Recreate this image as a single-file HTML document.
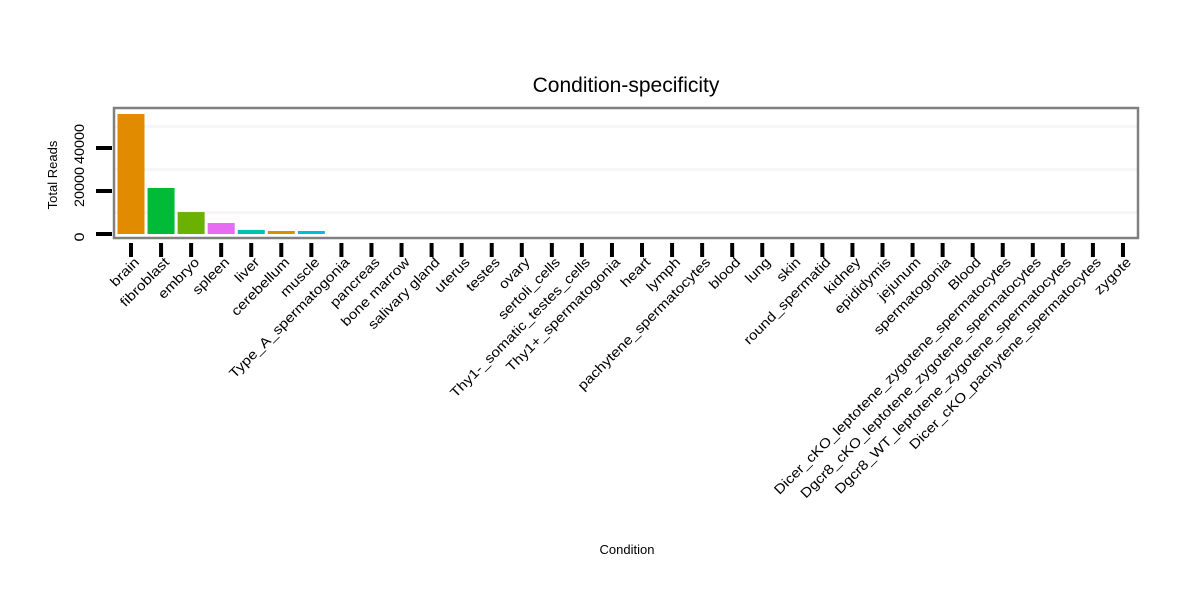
<!DOCTYPE html>
<html><head><meta charset="utf-8"><style>
body{margin:0;background:#fff;}
svg{display:block;font-family:"Liberation Sans",sans-serif;}
</style></head><body>
<svg id="chart" width="1200" height="600">
<rect width="1200" height="600" fill="#fff"/>
<text x="626" y="92" font-size="21" text-anchor="middle">Condition-specificity</text>
<text x="627" y="554" font-size="13" text-anchor="middle">Condition</text>
<text transform="translate(57,175) rotate(-90)" font-size="13" text-anchor="middle">Total Reads</text>
<g id="grid"></g><g id="bars"></g><g id="axes"></g>
<rect x="114" y="108" width="1024" height="130" fill="none" stroke="#808080" stroke-width="2.5"/>
</svg>
<script>
const categories=["brain","fibroblast","embryo","spleen","liver","cerebellum","muscle","Type_A_spermatogonia","pancreas","bone marrow","salivary gland","uterus","testes","ovary","sertoli_cells","Thy1-_somatic_testes_cells","Thy1+_spermatogonia","heart","lymph","pachytene_spermatocytes","blood","lung","skin","round_spermatid","kidney","epididymis","jejunum","spermatogonia","Blood","Dicer_cKO_leptotene_zygotene_spermatocytes","Dgcr8_cKO_leptotene_zygotene_spermatocytes","Dgcr8_WT_leptotene_zygotene_spermatocytes","Dicer_cKO_pachytene_spermatocytes","zygote"];
const values=[55800,21400,10200,5100,1900,1400,1400,0,0,0,0,0,0,0,0,0,0,0,0,0,0,0,0,0,0,0,0,0,0,0,0,0,0,0];
const colors=["#E08B00","#00BA38","#6BB100","#E76BF3","#00C0AF","#D89000","#00BCD8"];
const yTicks=[0,20000,40000];
const yGrid=[10000,30000,50000];
const NS="http://www.w3.org/2000/svg";
const y=v=>234-v*43/20000;
const x=i=>131+i*30.06;
function mk(t,a,p){const e=document.createElementNS(NS,t);for(const k in a)e.setAttribute(k,a[k]);document.getElementById(p).appendChild(e);return e;}
yGrid.forEach(v=>{const l=mk("line",{x1:114,x2:1138,y1:y(v),y2:y(v),stroke:"#f6f6f6","stroke-width":3},"grid");

});
values.forEach((v,i)=>{if(v<=0)return;const r=mk("rect",{x:x(i)-13.5,y:y(v),width:27,height:234-y(v),fill:colors[i%colors.length]},"bars");

});
yTicks.forEach(v=>{const l=mk("line",{x1:96,x2:112,y1:y(v),y2:y(v),stroke:"#000","stroke-width":4},"axes");


const t=mk("text",{transform:`translate(84,${y(v)+(v===0?3:-4)}) rotate(-90)`,"font-size":14,"text-anchor":"middle","textLength":v===0?9:40,"lengthAdjust":"spacingAndGlyphs"},"axes");t.textContent=v;

});
categories.forEach((c,i)=>{const l=mk("line",{x1:x(i),x2:x(i),y1:243,y2:257,stroke:"#000","stroke-width":4},"axes");


const t=mk("text",{transform:`translate(${x(i)+9},263) rotate(-45) scale(1.15,1)`,"font-size":13.5,"text-anchor":"end"},"axes");t.textContent=c;

});
</script>
</body></html>
